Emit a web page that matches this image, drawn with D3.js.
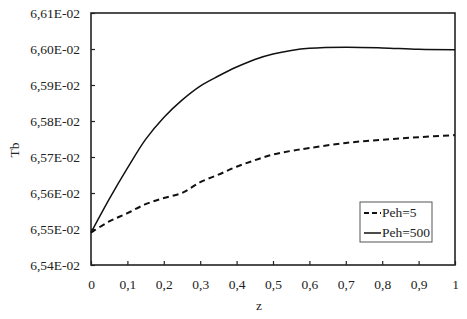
<!DOCTYPE html>
<html>
<head>
<meta charset="utf-8">
<script src="https://cdn.jsdelivr.net/npm/d3@7"></script>
<style>
  body { margin: 0; background: #fff; }
  svg text { font-family: "Liberation Serif", "Times New Roman", Times, serif; fill: #222; }
</style>
</head>
<body>
<svg id="chart" width="467" height="319"></svg>
<script>
// DATA (values in units of 1E-02)
const zValues = [0, 0.05, 0.1, 0.15, 0.2, 0.25, 0.3, 0.35, 0.4, 0.45, 0.5, 0.55, 0.6, 0.7, 0.8, 0.9, 1];
const peh5 = [6.549, 6.5521, 6.5544, 6.5569, 6.5586, 6.56, 6.563, 6.5651, 6.5673, 6.5691, 6.5707, 6.5717, 6.5725, 6.5739, 6.5748, 6.5755, 6.5761];
const peh500 = [6.549, 6.5583, 6.5669, 6.5749, 6.581, 6.5858, 6.5897, 6.5925, 6.595, 6.5971, 6.5986, 6.5996, 6.6002, 6.6005, 6.6003, 6.5999, 6.5998];
const yTicks = [6.54, 6.55, 6.56, 6.57, 6.58, 6.59, 6.6, 6.61];
const xTicks = [0, 0.1, 0.2, 0.3, 0.4, 0.5, 0.6, 0.7, 0.8, 0.9, 1];
const seriesNames = ["Peh=5", "Peh=500"];

// CANVAS SETUP
const svg = d3.select("#chart");
const margin = { top: 13, right: 12, bottom: 54, left: 91 },
  width = 467 - margin.left - margin.right,
  height = 319 - margin.top - margin.bottom;

const g = svg.append("g").attr("transform", `translate(${margin.left},${margin.top})`);

const xScale = d3.scaleLinear().domain([0, 1]).range([0, width]);
const yScale = d3.scaleLinear().domain([6.54, 6.61]).range([height, 0]);

const fmtY = (d) => d.toFixed(2).replace(".", ",") + "E-02";
const fmtX = (d) => (d === 0 || d === 1 ? String(d) : d.toFixed(1).replace(".", ","));

const styleAxis = (ax) => {
  ax.attr("font-family", null);
  ax.select(".domain").remove();
  ax.selectAll("line").attr("stroke", "#222").attr("stroke-width", 1.2);
  ax.selectAll("text").attr("font-size", 13.5).attr("fill", "#222");
};

// AXES
g.append("g")
  .attr("transform", `translate(0,${height})`)
  .call(d3.axisBottom(xScale).tickValues(xTicks).tickFormat(fmtX).tickSizeInner(-4).tickSizeOuter(0).tickPadding(14))
  .call(styleAxis);

g.append("g")
  .call(d3.axisLeft(yScale).tickValues(yTicks).tickFormat(fmtY).tickSizeInner(-4).tickSizeOuter(0).tickPadding(11))
  .call(styleAxis);

// frame
g.append("rect")
  .attr("width", width)
  .attr("height", height)
  .attr("fill", "none")
  .attr("stroke", "#222")
  .attr("stroke-width", 1.6);

// axis titles
svg.append("text")
  .attr("x", 259)
  .attr("y", 310)
  .attr("text-anchor", "middle")
  .attr("font-size", 13.5)
  .text("z");

svg.append("text")
  .attr("transform", "translate(19,150) rotate(-90)")
  .attr("text-anchor", "middle")
  .attr("font-size", 13.5)
  .text("Tb");

// LINES
const line = (vals) =>
  d3.line()
    .x((d, i) => xScale(zValues[i]))
    .y((d) => yScale(d))
    .curve(d3.curveCatmullRom)(vals);

g.append("path")
  .attr("d", line(peh5))
  .attr("fill", "none")
  .attr("stroke", "#111")
  .attr("stroke-width", 2)
  .attr("stroke-dasharray", "6,4");

g.append("path")
  .attr("d", line(peh500))
  .attr("fill", "none")
  .attr("stroke", "#111")
  .attr("stroke-width", 1.5);

// LEGEND
const lg = svg.append("g").attr("transform", "translate(360,202)");
lg.append("rect")
  .attr("width", 72)
  .attr("height", 40)
  .attr("fill", "#fff")
  .attr("stroke", "#555")
  .attr("stroke-width", 1);

seriesNames.forEach((name, i) => {
  const yy = 11 + i * 20;
  lg.append("line")
    .attr("x1", 4).attr("x2", 21)
    .attr("y1", yy).attr("y2", yy)
    .attr("stroke", "#111")
    .attr("stroke-width", i === 0 ? 2 : 1.5)
    .attr("stroke-dasharray", i === 0 ? "5,3" : null);
  lg.append("text")
    .attr("x", 22)
    .attr("y", yy + 4)
    .attr("font-size", 13.5)
    .text(name);
});
</script>
</body>
</html>
